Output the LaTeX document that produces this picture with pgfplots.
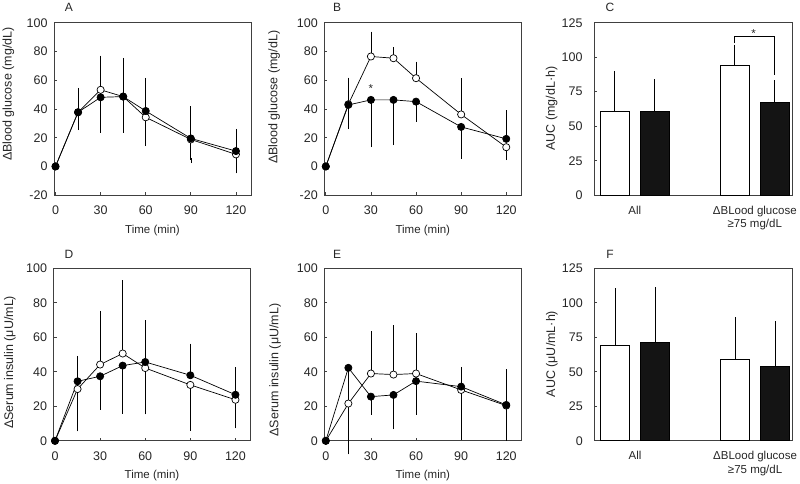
\documentclass[border=0pt]{standalone}
\usepackage{fontspec}
\setmainfont{Liberation Sans}
\usepackage{pgfplots}
\pgfplotsset{compat=1.18}
\definecolor{axc}{HTML}{404040}
\definecolor{txc}{HTML}{262626}
\newcommand{\fs}{\fontsize{11.5}{13.5}\selectfont}
\newcommand{\ft}{\fontsize{12.5}{14}\selectfont}
\newcommand{\fy}{\fontsize{12.5}{14}\selectfont}
\pgfplotsset{
  common/.style={
    scale only axis, anchor=north west,
    axis line style={draw=axc, line width=0.8pt},
    tick align=inside, tick pos=left,
    major tick length=3pt,
    every tick/.style={draw=axc, line width=0.7pt},
    /pgf/number format/assume math mode=true,
    tick label style={font=\ft, text=txc},
    label style={font=\fs, text=txc},
    ylabel style={font=\fy},
    xlabel style={at={(rel axis cs:0.5,0)}, anchor=center, yshift=-35pt},
    xticklabel shift=7pt,
    yticklabel shift=3pt,
  },
  lineax/.style={common, width=197pt, height=172.5pt, xmin=-1, xmax=130,
    xtick={0,30,60,90,120}, xlabel={Time (min)}},
  barax/.style={common, width=198pt, height=172.5pt, xmin=-0.52, xmax=4.43,
    ymin=0, ymax=125, ytick={0,25,50,75,100,125}, xtick={0.5,3.5},
    xticklabels={All,{ΔBLood glucose\\≥75 mg/dL}},
    xticklabel style={align=center, font=\fs},
    x tick style={draw=none}, yticklabel shift=8pt,
    ylabel style={at={(axis description cs:-0.214,0.503)}, anchor=center}},
  opn/.style={black, line width=0.7pt, mark=*, mark size=3.6pt,
    mark options={fill=white, draw=black, line width=0.7pt},
    error bars/.cd, y dir=both, y explicit,
    error bar style={line width=0.7pt, black},
    error mark options={line width=0.7pt, mark size=2.6pt, black}},
  fil/.style={black, line width=0.7pt, mark=*, mark size=3.6pt,
    mark options={fill=black, draw=black, line width=0.7pt},
    error bars/.cd, y dir=both, y explicit,
    error bar style={line width=0.7pt, black},
    error mark options={line width=0.7pt, mark size=2.6pt, black}},
  bopn/.style={ybar, bar shift=0pt, bar width=0.73, draw=black, fill=white, line width=0.7pt,
    error bars/.cd, y dir=plus, y explicit,
    error bar style={line width=0.7pt, black},
    error mark options={line width=0.7pt, mark size=2.6pt, black}},
  bfil/.style={ybar, bar shift=0pt, bar width=0.73, draw=black, fill=black!92, line width=0.7pt,
    error bars/.cd, y dir=plus, y explicit,
    error bar style={line width=0.7pt, black},
    error mark options={line width=0.7pt, mark size=2.6pt, black}},
}
\begin{document}
\begin{tikzpicture}
\useasboundingbox (0,0) rectangle (800pt,-483pt);
% ---------------- A ----------------
\begin{axis}[lineax, at={(54pt,-22.7pt)}, ymin=-20, ymax=100, ytick={-20,0,...,100},
  ylabel={ΔBlood glucose (mg/dL)},
  ylabel style={at={(axis description cs:-0.232,0.586)}, anchor=center}]
\addplot[opn] table[x=x,y=y,y error plus=ep,y error minus=em]{
x y ep em
0 0 0 0
15 37.7 15.1 0
30 53.3 22 0
45 48.6 25.1 0
60 34.2 0 18.2
90 18.8 0 14.6
120 8.4 0 11.4
};
\addplot[fil] table[x=x,y=y,y error plus=ep,y error minus=em]{
x y ep em
0 0 0 0
15 37.7 0 10.7
30 48.1 0 22.8
45 48.6 0 23.5
60 38.6 21.2 0
90 19.5 20.7 0
120 10.7 13.7 0
};
\end{axis}
% ---------------- B ----------------
\begin{axis}[lineax, at={(324.3pt,-22.7pt)}, ymin=-20, ymax=100, ytick={-20,0,...,100},
  ylabel={ΔBlood glucose (mg/dL)},
  ylabel style={at={(axis description cs:-0.255,0.568)}, anchor=center}]
\addplot[opn] table[x=x,y=y,y error plus=ep,y error minus=em]{
x y ep em
0 0 0 0
15 43.3 16.7 0
30 76.5 15.5 0
45 75.3 5.9 0
60 61.4 9.8 0
90 36.2 23.2 0
120 13.4 0 7.2
};
\addplot[fil] table[x=x,y=y,y error plus=ep,y error minus=em]{
x y ep em
0 0 0 0
15 42.8 0 15.1
30 46.3 0 31
45 46.3 0 29.6
60 45.1 0 12.3
90 27.5 0 20.4
120 19.2 18.1 0
};
\node[font=\fs, text=txc] at (axis cs:30,54) {*};
\end{axis}
% ---------------- C ----------------
\begin{axis}[barax, at={(594pt,-22.7pt)}, ylabel={AUC (mg/dL·h)}]
\addplot[bopn] coordinates {(0,61) +- (0,27.3) (3,93.8) +- (0,13.4)};
\addplot[bfil] coordinates {(1,61) +- (0,21) (4,67) +- (0,14.5)};
\draw[line width=0.7pt, black] (axis cs:3,110) -- (axis cs:3,114.9) -- (axis cs:4,114.9) -- (axis cs:4,87);
\node[font=\fs, text=txc] at (axis cs:3.47,117.5) {*};
\end{axis}
% ---------------- D ----------------
\begin{axis}[lineax, at={(53.5pt,-268.3pt)}, ymin=0, ymax=100, ytick={0,20,...,100},
  ylabel={ΔSerum insulin (μU/mL)},
  ylabel style={at={(axis description cs:-0.221,0.455)}, anchor=center}]
\addplot[opn] table[x=x,y=y,y error plus=ep,y error minus=em]{
x y ep em
0 0 0 0
15 30 0 23
30 44.2 29.6 0
45 50.6 41.1 0
60 42.2 0 25.3
90 32.4 0 25
120 23.8 0 15.1
};
\addplot[fil] table[x=x,y=y,y error plus=ep,y error minus=em]{
x y ep em
0 0 0 0
15 34.5 13.2 0
30 37.4 0 17.8
45 43.6 0 26.4
60 45.7 22.7 0
90 38 16.8 0
120 26.7 14.3 0
};
\end{axis}
% ---------------- E ----------------
\begin{axis}[lineax, at={(324.3pt,-268.3pt)}, ymin=0, ymax=100, ytick={0,20,...,100}, clip=false,
  ylabel={ΔSerum insulin (μU/mL)},
  ylabel style={at={(axis description cs:-0.25,0.41)}, anchor=center}]
\addplot[opn] table[x=x,y=y,y error plus=ep,y error minus=em]{
x y ep em
0 0 0 0
15 21.6 10.4 0
30 39 23.1 0
45 38.4 27.2 0
60 39 21.8 0
90 29.5 0 27.5
120 20.4 0 18.8
};
\addplot[fil] table[x=x,y=y,y error plus=ep,y error minus=em]{
x y ep em
0 0 0 0
15 42.3 0 48.7
30 25.6 0 8.9
45 26.6 0 18.4
60 34.6 0 17.9
90 31.4 9.9 0
120 20.8 19.3 0
};
\end{axis}
% ---------------- F ----------------
\begin{axis}[barax, at={(594.3pt,-268.3pt)}, ylabel={AUC (μU/mL·h)}]
\addplot[bopn] coordinates {(0,69.2) +- (0,39.6) (3,59.1) +- (0,28.7)};
\addplot[bfil] coordinates {(1,71.4) +- (0,38.1) (4,54) +- (0,30.9)};
\end{axis}
% panel letters
\node[font=\fontsize{12}{14}\selectfont, text=txc] at (69pt,-7.5pt) {A};
\node[font=\fontsize{12}{14}\selectfont, text=txc] at (337pt,-7.5pt) {B};
\node[font=\fontsize{12}{14}\selectfont, text=txc] at (610pt,-7.5pt) {C};
\node[font=\fontsize{12}{14}\selectfont, text=txc] at (69pt,-254pt) {D};
\node[font=\fontsize{12}{14}\selectfont, text=txc] at (337pt,-254pt) {E};
\node[font=\fontsize{12}{14}\selectfont, text=txc] at (610pt,-254pt) {F};
\end{tikzpicture}
\end{document}
